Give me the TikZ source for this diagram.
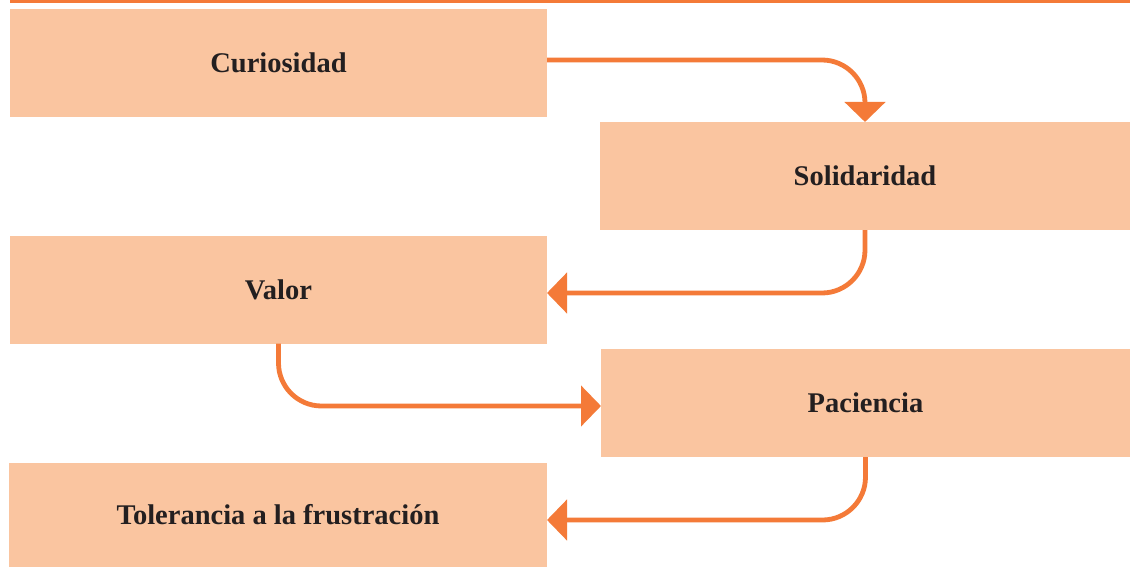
\documentclass[tikz,border=0pt]{standalone}
\usepackage{fontspec}
\setmainfont{Liberation Serif}
\usetikzlibrary{arrows.meta}
\definecolor{boxfill}{HTML}{FAC5A0}
\definecolor{orng}{HTML}{F47A38}
\definecolor{txt}{HTML}{231F20}
\begin{document}
\begin{tikzpicture}[x=1pt,y=-1pt,
  stepbox/.style={fill=boxfill,draw=none,inner sep=0pt,outer sep=0pt,
    text=txt,font=\fontsize{28.5}{34}\selectfont\bfseries},
  flow/.style={draw=orng,line width=4.8pt,rounded corners=43pt,
    -{Triangle[width=40pt,length=20pt]}}]
\useasboundingbox (0,0) rectangle (1130,567);
\fill[white] (0,0) rectangle (1130,567);
\coordinate (tl) at (10,1.5);
\coordinate (tr) at (1130,1.5);
\draw[orng,line width=3pt] (tl) -- (tr);
\node[stepbox,minimum width=537pt,minimum height=108pt] (cur) at (278.5,63) {Curiosidad};
\node[stepbox,minimum width=530pt,minimum height=108pt] (sol) at (865,176) {Solidaridad};
\node[stepbox,minimum width=537pt,minimum height=108pt] (val) at (278.5,289.5) {Valor};
\node[stepbox,minimum width=529pt,minimum height=108pt] (pac) at (865.5,403) {Paciencia};
\node[stepbox,minimum width=538pt,minimum height=104pt] (tol) at (278,515) {Tolerancia a la frustración};
\draw[flow] ([yshift=3pt]cur.east) -| (sol.north);
\draw[flow] (sol.south) |- ([yshift=-3.5pt]val.east);
\draw[flow] (val.south) |- ([yshift=-3pt]pac.west);
\draw[flow] (pac.south) |- ([yshift=-5pt]tol.east);
\end{tikzpicture}
\end{document}
